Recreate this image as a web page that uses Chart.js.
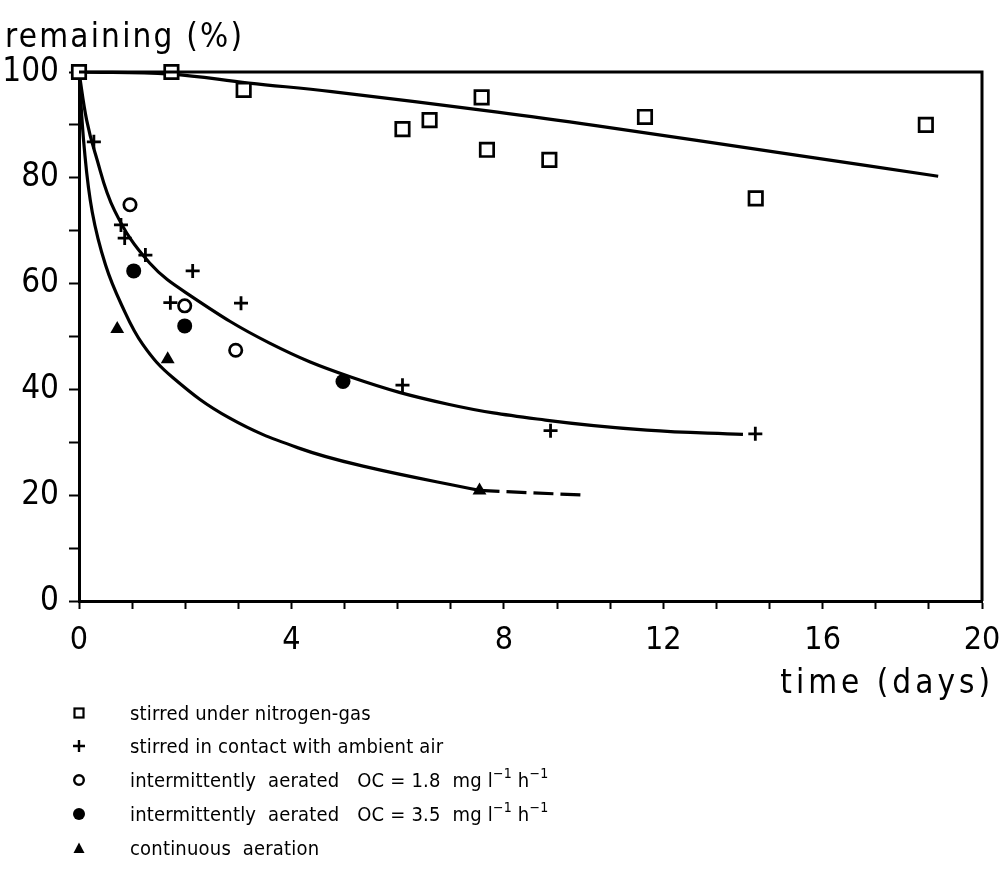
<!DOCTYPE html>
<html>
<head>
<meta charset="utf-8">
<script src="https://cdn.jsdelivr.net/npm/chart.js@4/dist/chart.umd.min.js"></script>
<style>
  html, body { margin: 0; padding: 0; background: #fff; }
  #wrap { position: relative; width: 999px; height: 888px; overflow: hidden; }
  #chart { position: absolute; left: 0; top: 0; }
  #legend { position: absolute; left: 0; top: 0; width: 999px; height: 888px;
            font-family: "DejaVu Sans Condensed", "Liberation Sans Narrow", "Roboto Condensed", "Liberation Sans", sans-serif;
            font-size: 20px; color: #000; pointer-events: none; letter-spacing: 0.2px; }
  .row { position: absolute; left: 0; height: 30px; width: 700px; }
  .row svg { position: absolute; left: 70px; top: 6px; }
  .row span { position: absolute; left: 130px; top: 2px; white-space: pre; line-height: 26px; }
  sup { font-size: 14px; vertical-align: 0; position: relative; top: -9px; }
</style>
</head>
<body>
<div id="wrap">
  <canvas id="chart" width="999" height="888"></canvas>
  <div id="legend">
    <div class="row" style="top:698px"><svg width="18" height="18"><rect x="4.5" y="4.5" width="9" height="9" fill="#fff" stroke="#000" stroke-width="2.2"/></svg><span>stirred under nitrogen-gas</span></div>
    <div class="row" style="top:731px"><svg width="18" height="18"><path d="M9 3 V15 M3 9 H15" stroke="#000" stroke-width="2.4"/></svg><span>stirred in contact with ambient air</span></div>
    <div class="row" style="top:765px"><svg width="18" height="18"><circle cx="9" cy="9" r="4.8" fill="#fff" stroke="#000" stroke-width="2.4"/></svg><span>intermittently  aerated   OC = 1.8  mg l<sup>−1</sup> h<sup>−1</sup></span></div>
    <div class="row" style="top:799px"><svg width="18" height="18"><circle cx="9" cy="9" r="6" fill="#000"/></svg><span>intermittently  aerated   OC = 3.5  mg l<sup>−1</sup> h<sup>−1</sup></span></div>
    <div class="row" style="top:833px"><svg width="18" height="18"><path d="M9 3.5 L14.5 14 L3.5 14 Z" fill="#000"/></svg><span>continuous  aeration</span></div>
  </div>
</div>
<script>
// ---------------- data (time in days, remaining in %) ----------------
const nitrogenDays = [0, 1.74, 3.10, 6.09, 6.60, 7.58, 7.68, 9.14, 11.54, 14.32, 18.59];
const nitrogenPct  = [100, 100, 96.6, 89.2, 90.9, 95.2, 85.3, 83.4, 91.5, 76.1, 90.0];

const airDays = [0.28, 0.79, 0.86, 1.25, 1.72, 2.14, 3.05, 6.09, 9.17, 14.31];
const airPct  = [86.8, 71.1, 68.6, 65.4, 56.4, 62.4, 56.3, 40.8, 32.2, 31.6];

const oc18Days = [0.96, 1.99, 2.95];
const oc18Pct  = [74.9, 55.8, 47.4];

const oc35Days = [1.03, 1.99, 4.97];
const oc35Pct  = [62.4, 52.0, 41.5];

const contDays = [0.72, 1.67, 7.54];
const contPct  = [51.4, 45.7, 20.9];

// fitted curves drawn in the figure
const nitrogenFitDays = [0, 1.72, 3.20, 4.76, 7.88, 10.35, 15.33, 18.9];
const nitrogenFitPct  = [100, 99.6, 97.9, 96.3, 92.4, 89.8, 84.3, 80.3];

const airFitDays = [0, 0.144, 0.30, 0.67, 1.33, 2.13, 3.58, 5.13, 6.95, 9.04, 11.59, 14.0];
const airFitPct  = [100, 90.9, 84.8, 73.8, 63.9, 57.5, 48.8, 42.3, 37.2, 34.2, 32.3, 31.5];

const contFitDays = [0, 0.1, 0.25, 0.5, 0.8, 1.2, 1.77, 2.83, 4.14, 5.39, 7.54];
const contFitPct  = [100, 85.5, 73.5, 63.5, 56.0, 48.5, 42.2, 34.6, 28.9, 25.4, 20.9];

const contDashDays = [7.54, 10.05];
const contDashPct  = [20.9, 20.0];

// axis labels
const xTickDays   = [0, 4, 8, 12, 16, 20];
const xTickLabels = ['0', '4', '8', '12', '16', '20'];
const yTickValues = [0, 20, 40, 60, 80, 100];
const xTitle = 'time (days)';
const yTitle = 'remaining (%)';

// ---------------- the time axis is drawn compressed after 8 days ----------------
const BREAK_DAY = 8, COMPRESS = 0.75;
function toAxis(d) { return d <= BREAK_DAY ? d : BREAK_DAY + (d - BREAK_DAY) * COMPRESS; }
function pts(xs, ys) { return xs.map((d, i) => ({ x: toAxis(d), y: ys[i] })); }

const FONT = '"DejaVu Sans Condensed", "Liberation Sans Narrow", "Roboto Condensed", "Liberation Sans", sans-serif';
const PLOT = { left: 79, right: 982, top: 72, bottom: 601 };
const X_AXIS_H = 60;

const lineDs = (label, data, extra) => Object.assign({
  label, data, showLine: true, borderColor: '#000', borderWidth: 3.2, pointRadius: 0,
  fill: false, tension: 0.4, order: 2, clip: false
}, extra || {});
const markDs = (label, data, extra) => Object.assign({
  label, data, showLine: false, borderColor: '#000', backgroundColor: '#fff',
  borderWidth: 2.7, order: 1, clip: false
}, extra || {});

const frameAndTitles = {
  id: 'frameAndTitles',
  afterDatasetsDraw(chart) {
    const { ctx, chartArea: a } = chart;
    ctx.save();
    ctx.strokeStyle = '#000';
    ctx.lineWidth = 3;
    ctx.beginPath();
    ctx.moveTo(a.left, a.top); ctx.lineTo(a.right, a.top); ctx.lineTo(a.right, a.bottom);
    ctx.stroke();
    ctx.fillStyle = '#000';
    ctx.textBaseline = 'middle';
    ctx.font = '33px ' + FONT;
    ctx.letterSpacing = '2.2px';
    ctx.textAlign = 'left';
    ctx.fillText(yTitle, 5, 38);
    ctx.letterSpacing = '4px';
    ctx.textAlign = 'right';
    ctx.fillText(xTitle, 994, 684);
    ctx.restore();
  }
};

new Chart(document.getElementById('chart'), {
  type: 'scatter',
  data: {
    datasets: [
      lineDs('nitrogen fit', pts(nitrogenFitDays, nitrogenFitPct)),
      lineDs('air fit', pts(airFitDays, airFitPct)),
      lineDs('continuous fit', pts(contFitDays, contFitPct)),
      lineDs('continuous extrapolation', pts(contDashDays, contDashPct), { borderDash: [20, 7], tension: 0 }),
      markDs('stirred under nitrogen-gas', pts(nitrogenDays, nitrogenPct), { pointStyle: 'rect', pointRadius: 9.5 }),
      markDs('stirred in contact with ambient air', pts(airDays, airPct), { pointStyle: 'cross', pointRadius: 7, borderWidth: 2.8 }),
      markDs('intermittently aerated OC = 1.8', pts(oc18Days, oc18Pct), { pointStyle: 'circle', pointRadius: 6.2 }),
      markDs('intermittently aerated OC = 3.5', pts(oc35Days, oc35Pct), { pointStyle: 'circle', pointRadius: 7.5, backgroundColor: '#000', borderWidth: 0 }),
      markDs('continuous aeration', pts(contDays, contPct), { pointStyle: 'triangle', pointRadius: 8, backgroundColor: '#000', borderWidth: 0 })
    ]
  },
  options: {
    responsive: false,
    animation: false,
    devicePixelRatio: 1,
    layout: { padding: { left: 0, right: 999 - PLOT.right, top: PLOT.top, bottom: 888 - PLOT.bottom - X_AXIS_H } },
    plugins: { legend: { display: false }, tooltip: { enabled: false }, title: { display: false } },
    scales: {
      x: {
        type: 'linear', min: 0, max: toAxis(20),
        afterFit(s) { s.height = X_AXIS_H; s.paddingLeft = 0; s.paddingRight = 0; },
        border: { display: true, color: '#000', width: 3 },
        grid: { drawOnChartArea: false, drawTicks: true, tickLength: 8, tickWidth: 2, tickColor: '#000' },
        ticks: {
          stepSize: 1, autoSkip: false, maxRotation: 0, color: '#000', padding: 12,
          font: { family: FONT, size: 32 },
          callback(v) {
            const i = xTickDays.findIndex(d => Math.abs(toAxis(d) - v) < 1e-6);
            return i >= 0 ? xTickLabels[i] : '';
          }
        }
      },
      y: {
        type: 'linear', min: 0, max: 100,
        afterFit(s) { s.width = PLOT.left; s.paddingTop = 0; s.paddingBottom = 0; },
        border: { display: true, color: '#000', width: 3 },
        grid: { drawOnChartArea: false, drawTicks: true, tickLength: 10, tickWidth: 2, tickColor: '#000' },
        ticks: {
          stepSize: 10, autoSkip: false, color: '#000', padding: 10,
          font: { family: FONT, size: 33 },
          callback(v) { return yTickValues.includes(v) ? String(v) : ''; }
        }
      }
    }
  },
  plugins: [frameAndTitles]
});
</script>
</body>
</html>
